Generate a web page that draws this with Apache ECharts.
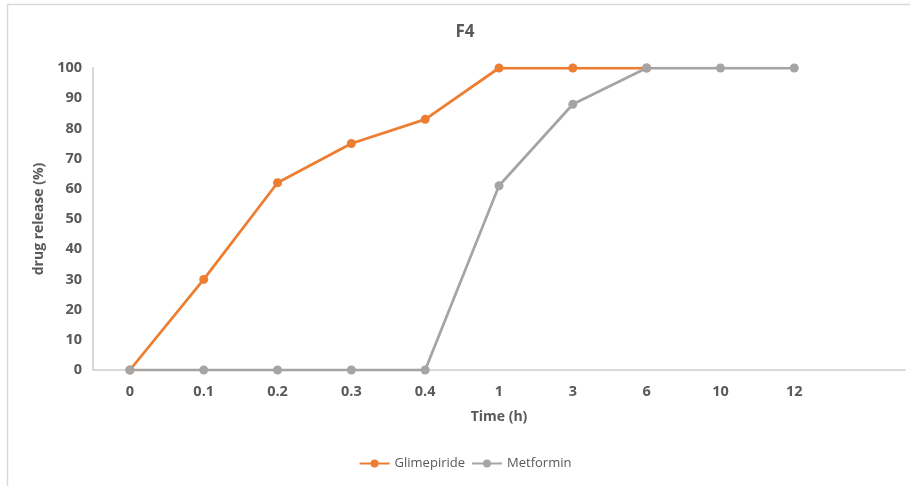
<!DOCTYPE html>
<html>
<head>
<meta charset="utf-8">
<style>
  html, body { margin: 0; padding: 0; overflow: hidden; background: #fff; }
  #chart { width: 930px; height: 486px; }
</style>
<script src="https://cdn.jsdelivr.net/npm/echarts@6/dist/echarts.min.js"></script>
</head>
<body>
<div id="chart"></div>
<script>
// Sampling times (h); the trailing blank slot keeps the axis running past 12 h
const timeLabels = ['0', '0.1', '0.2', '0.3', '0.4', '1', '3', '6', '10', '12', ''];
// Cumulative drug release (%) for formulation F4
const glimepiride = [0, 30, 62, 75, 83, 100, 100, 100, null, null, null];
const metformin   = [0, 0, 0, 0, 0, 61, 88, 100, 100, 100, null];

const textColor = '#595959';
const fontFamily = '"Open Sans", Lato, sans-serif';

const chart = echarts.init(document.getElementById('chart'));
chart.setOption({
  animation: false,
  textStyle: { fontFamily: fontFamily },
  graphic: [{
    type: 'rect',
    silent: true,
    shape: { x: 7.5, y: 4.5, width: 1200, height: 1200 },
    style: { fill: 'none', stroke: '#d9d9d9', lineWidth: 1.5 }
  }],
  title: {
    text: 'F4',
    left: 'center',
    top: 19,
    textStyle: { color: textColor, fontSize: 17, fontWeight: 'bold', fontFamily: fontFamily }
  },
  legend: {
    bottom: 11,
    left: 'center',
    itemWidth: 30,
    itemHeight: 10,
    itemGap: 6,
    textStyle: { color: textColor, fontSize: 13, fontFamily: fontFamily },
    data: ['Glimepiride', 'Metformin']
  },
  grid: { left: 93, right: 25, top: 68, bottom: 116 },
  xAxis: {
    type: 'category',
    data: timeLabels,
    boundaryGap: true,
    name: 'Time (h)',
    nameLocation: 'middle',
    nameGap: 40,
    nameTextStyle: { color: textColor, fontSize: 14, fontWeight: 'bold', fontFamily: fontFamily },
    axisLine: { lineStyle: { color: '#d9d9d9', width: 2 } },
    axisTick: { show: false },
    axisLabel: { color: textColor, fontSize: 14.5, fontWeight: 'bold', margin: 14, fontFamily: fontFamily },
    splitLine: { show: false }
  },
  yAxis: {
    type: 'value',
    min: 0,
    max: 100,
    interval: 10,
    name: 'drug release (%)',
    nameLocation: 'middle',
    nameGap: 42,
    nameTextStyle: { color: textColor, fontSize: 14, fontWeight: 'bold', fontFamily: fontFamily },
    axisLine: { show: true, lineStyle: { color: '#d9d9d9', width: 2 } },
    axisTick: { show: false },
    axisLabel: { color: textColor, fontSize: 14.5, fontWeight: 'bold', margin: 11, fontFamily: fontFamily },
    splitLine: { show: false }
  },
  series: [
    {
      name: 'Glimepiride',
      type: 'line',
      data: glimepiride,
      symbol: 'circle',
      symbolSize: 9,
      color: '#ED7D31',
      lineStyle: { width: 2.75, color: '#ED7D31' },
      itemStyle: { color: '#ED7D31' }
    },
    {
      name: 'Metformin',
      type: 'line',
      data: metformin,
      symbol: 'circle',
      symbolSize: 9,
      color: '#A5A5A5',
      lineStyle: { width: 2.75, color: '#A5A5A5' },
      itemStyle: { color: '#A5A5A5' }
    }
  ]
});
</script>
</body>
</html>
